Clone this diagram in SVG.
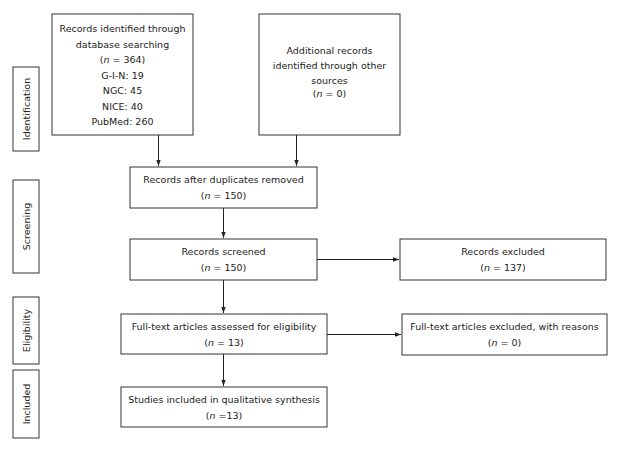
<svg xmlns="http://www.w3.org/2000/svg" width="619" height="450" viewBox="0 0 619 450">
<style>
.box{fill:#fff;stroke:#333;stroke-width:1}
.t{font-family:"DejaVu Sans",Verdana,sans-serif;font-size:9.5px;fill:#222;text-anchor:middle}
.c{fill:none;stroke:#222;stroke-width:1}
</style>
<defs>
<marker id="ah" viewBox="0 0 6 6" refX="6" refY="3" markerWidth="6" markerHeight="6" orient="auto" markerUnits="userSpaceOnUse">
<path d="M0,0.8 L6,3 L0,5.2 Z" fill="#222"/>
</marker>
</defs>
<rect width="619" height="450" fill="#fff"/>
<g id="lbl-identification"><rect class="box" x="13" y="67" width="26" height="84"/><text class="t" transform="translate(29.5,109) rotate(-90)">Identification</text></g>
<g id="lbl-screening"><rect class="box" x="13" y="180" width="26" height="93"/><text class="t" transform="translate(29.5,226.5) rotate(-90)">Screening</text></g>
<g id="lbl-eligibility"><rect class="box" x="13" y="297" width="26" height="67"/><text class="t" transform="translate(29.5,330.5) rotate(-90)">Eligibility</text></g>
<g id="lbl-included"><rect class="box" x="13" y="370" width="26" height="68"/><text class="t" transform="translate(29.5,404) rotate(-90)">Included</text></g>
<g id="n-db"><rect class="box" x="52" y="14" width="141" height="121"/>
<text class="t" x="122.5" y="32">Records identified through</text>
<text class="t" x="122.5" y="47.5">database searching</text>
<text class="t" x="122.5" y="63">(<tspan font-style="italic">n</tspan> = 364)</text>
<text class="t" x="122.5" y="78.5">G-I-N: 19</text>
<text class="t" x="122.5" y="94">NGC: 45</text>
<text class="t" x="122.5" y="109.5">NICE: 40</text>
<text class="t" x="122.5" y="125">PubMed: 260</text>
</g>
<g id="n-other"><rect class="box" x="259" y="14" width="141" height="121"/>
<text class="t" x="329.5" y="54">Additional records</text>
<text class="t" x="329.5" y="69">identified through other</text>
<text class="t" x="329.5" y="84">sources</text>
<text class="t" x="329.5" y="97">(<tspan font-style="italic">n</tspan> = 0)</text>
</g>
<g id="n-dup"><rect class="box" x="130" y="167" width="187" height="41"/>
<text class="t" x="223.5" y="183">Records after duplicates removed</text>
<text class="t" x="223.5" y="199">(<tspan font-style="italic">n</tspan> = 150)</text>
</g>
<g id="n-screened"><rect class="box" x="130" y="239" width="187" height="41"/>
<text class="t" x="223.5" y="255">Records screened</text>
<text class="t" x="223.5" y="271">(<tspan font-style="italic">n</tspan> = 150)</text>
</g>
<g id="n-excl"><rect class="box" x="400" y="239" width="206" height="41"/>
<text class="t" x="503" y="255">Records excluded</text>
<text class="t" x="503" y="271">(<tspan font-style="italic">n</tspan> = 137)</text>
</g>
<g id="n-full"><rect class="box" x="121" y="314" width="206" height="40"/>
<text class="t" x="224" y="330">Full-text articles assessed for eligibility</text>
<text class="t" x="224" y="346">(<tspan font-style="italic">n</tspan> = 13)</text>
</g>
<g id="n-fullexcl"><rect class="box" x="402" y="314" width="205" height="41"/>
<text class="t" x="504.5" y="330">Full-text articles excluded, with reasons</text>
<text class="t" x="504.5" y="346">(<tspan font-style="italic">n</tspan> = 0)</text>
</g>
<g id="n-incl"><rect class="box" x="121" y="387" width="206" height="40"/>
<text class="t" x="224" y="403">Studies included in qualitative synthesis</text>
<text class="t" x="224" y="419">(<tspan font-style="italic">n</tspan> =13)</text>
</g>
<g id="connectors">
<line class="c" x1="158.5" y1="135" x2="158.5" y2="166" marker-end="url(#ah)"/>
<line class="c" x1="296.5" y1="135" x2="296.5" y2="166" marker-end="url(#ah)"/>
<line class="c" x1="223.5" y1="208" x2="223.5" y2="238" marker-end="url(#ah)"/>
<line class="c" x1="317" y1="259.5" x2="399" y2="259.5" marker-end="url(#ah)"/>
<line class="c" x1="223.5" y1="280" x2="223.5" y2="313" marker-end="url(#ah)"/>
<line class="c" x1="327" y1="334.5" x2="401" y2="334.5" marker-end="url(#ah)"/>
<line class="c" x1="223.5" y1="354" x2="223.5" y2="386" marker-end="url(#ah)"/>
</g>
</svg>
